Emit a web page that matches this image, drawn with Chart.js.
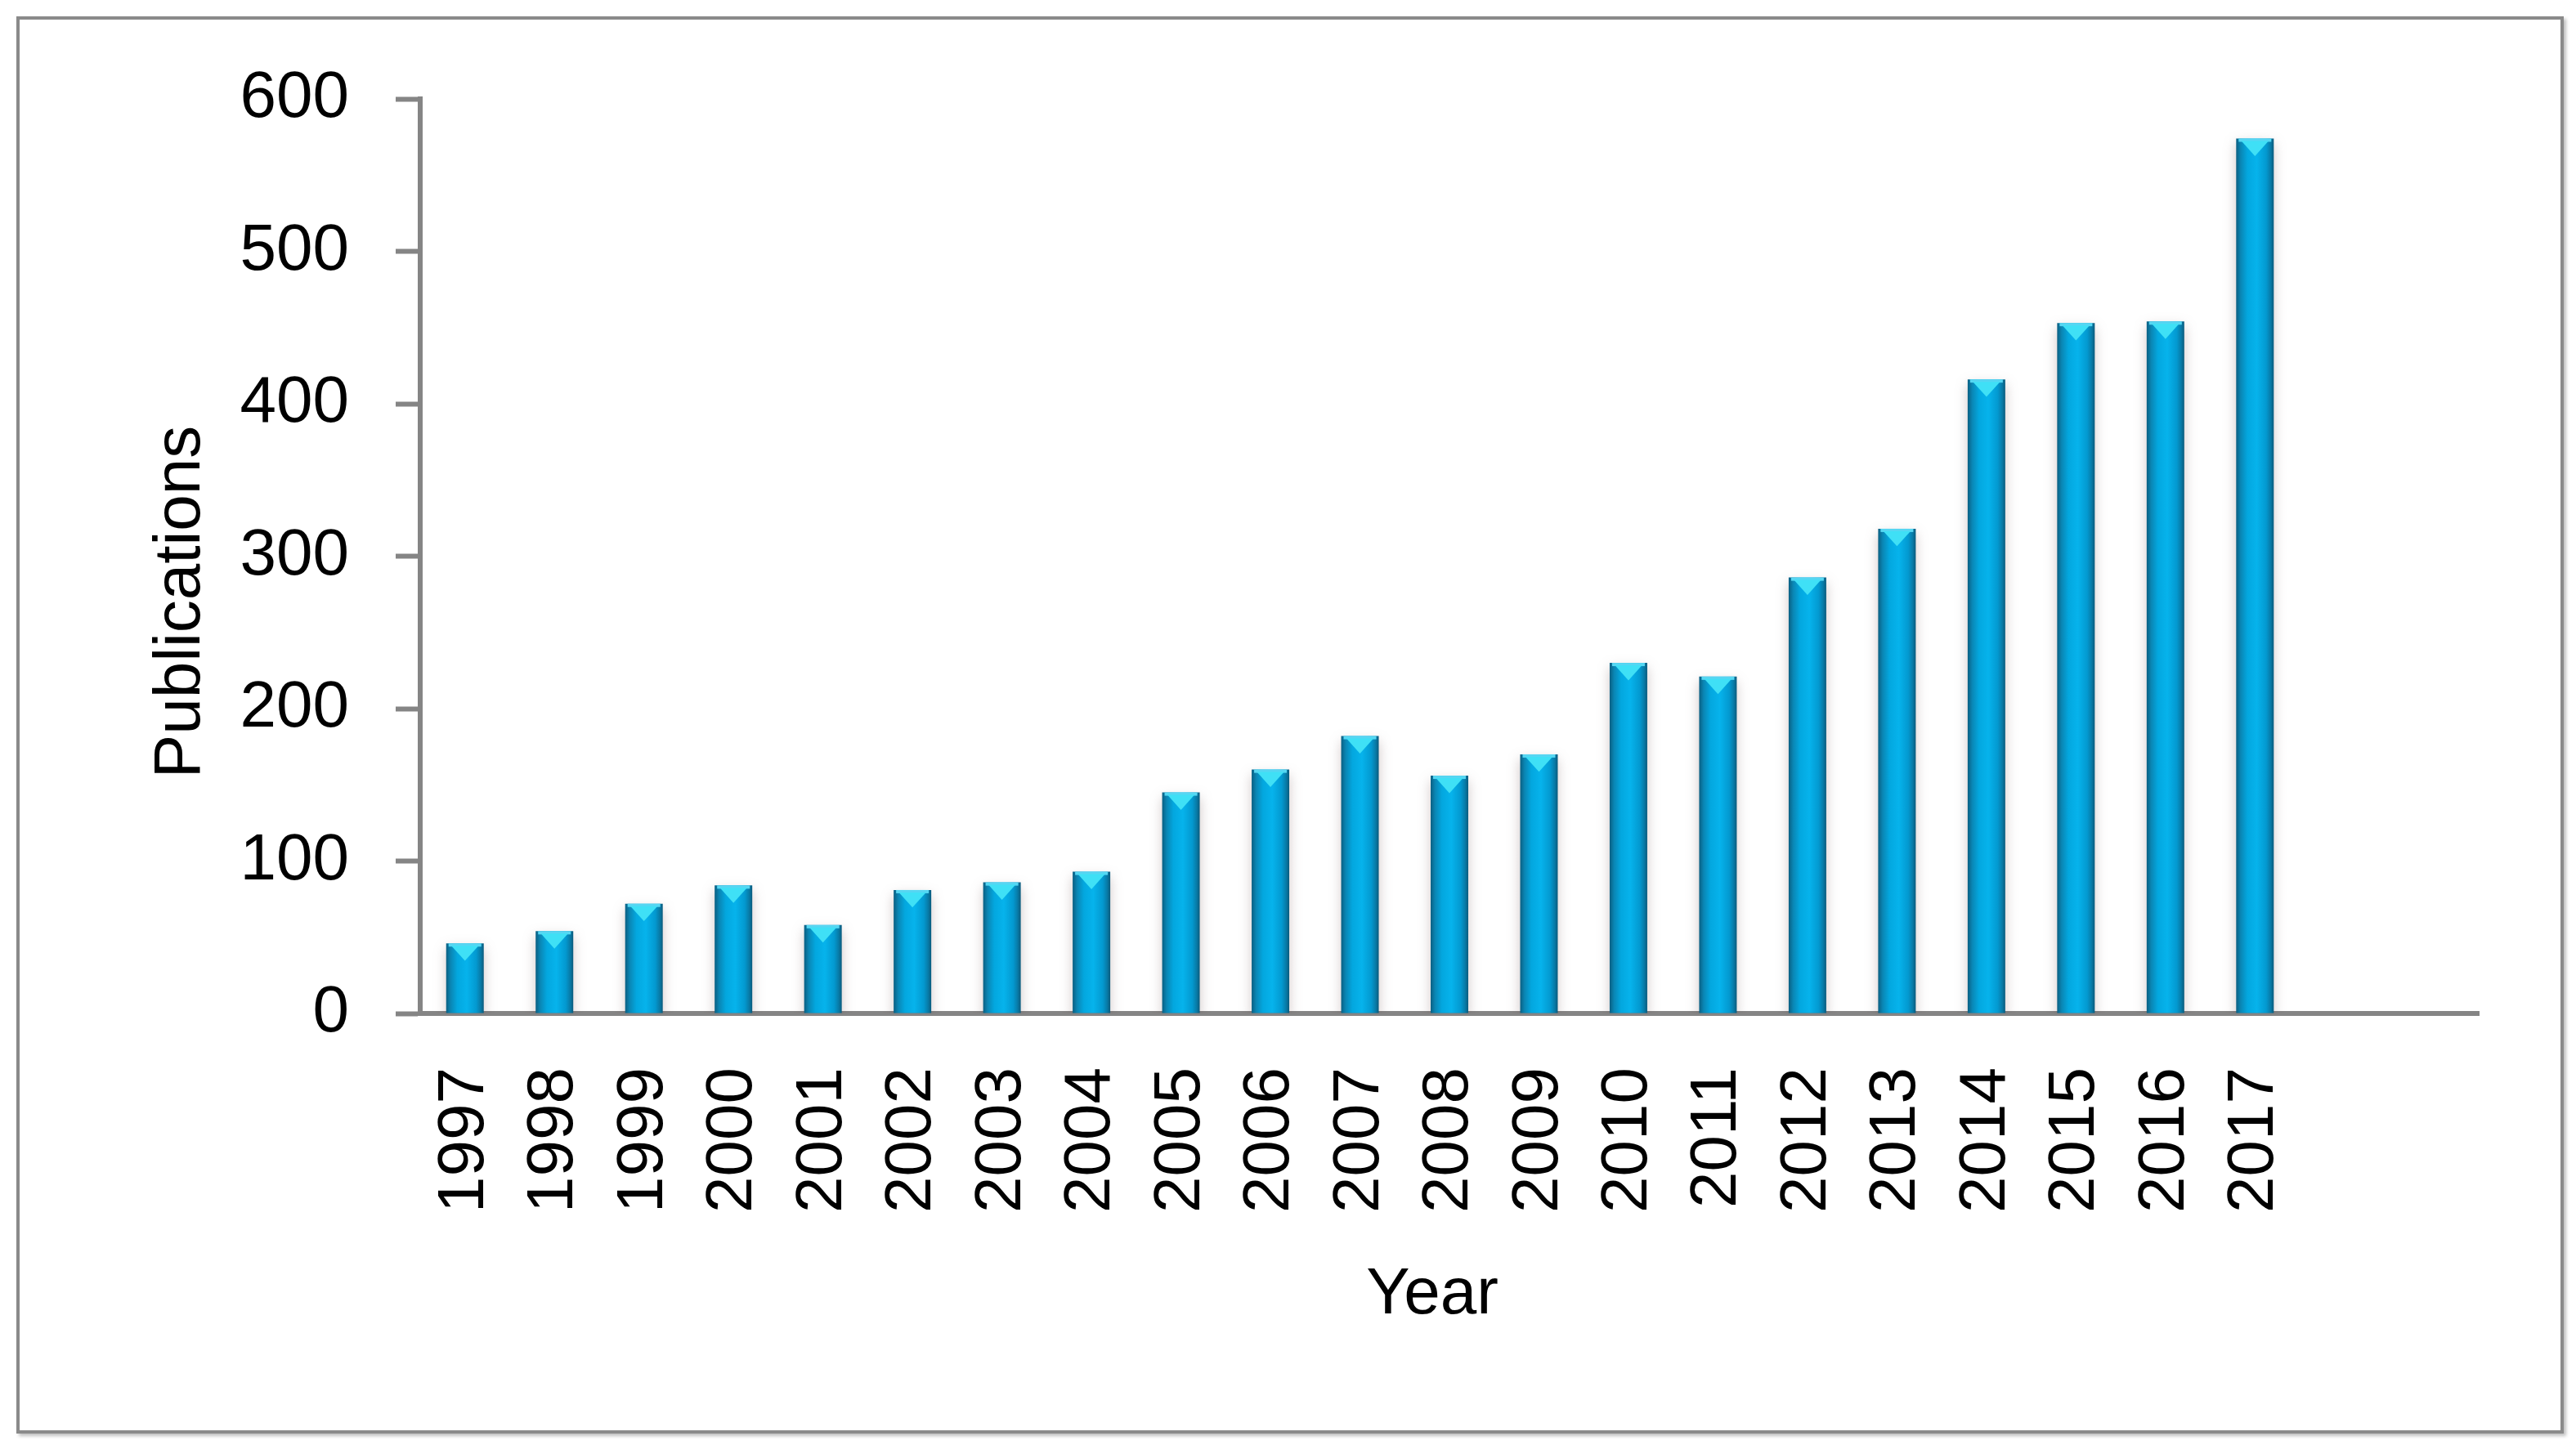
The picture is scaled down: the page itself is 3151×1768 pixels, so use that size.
<!DOCTYPE html>
<html>
<head>
<meta charset="utf-8">
<script src="https://cdn.jsdelivr.net/npm/chart.js@4"></script>
<style>
    html, body {
        margin: 0;
        padding: 0;
        background: #ffffff;
    }
    .wrapper {
        position: relative;
        width: 3151px;
        height: 1768px;
    }
    .frame {
        position: absolute;
        left: 20px;
        top: 20px;
        width: 3108px;
        height: 1726px;
        border: 4px solid #8a8a8a;
        box-shadow: 3px 3px 4px rgba(0, 0, 0, 0.25);
        pointer-events: none;
    }
    #publications_chart {
        position: absolute;
        left: 0;
        top: 0;
    }
</style>
</head>
<body>
<div class="wrapper">
    <canvas id="publications_chart" width="3151" height="1768"></canvas>
    <div class="frame"></div>
</div>
<script>
const years = ['1997', '1998', '1999', '2000', '2001', '2002', '2003', '2004', '2005', '2006', '2007',
    '2008', '2009', '2010', '2011', '2012', '2013', '2014', '2015', '2016', '2017', '', ''];
const publications = [46, 54, 72, 84, 58, 81, 86, 93, 145, 160, 182,
    156, 170, 230, 221, 286, 318, 416, 453, 454, 574, null, null];
const yMin = 0;
const yMax = 600;
const yStep = 100;
const xTitle = 'Year';
const yTitle = 'Publications';

const FONT = '"Liberation Sans", Arial, sans-serif';
const AXIS_GREY = '#858585';
const BAR_PERCENT = 0.42;

const barGradient = (context) => {
    const chart = context.chart;
    const xScale = chart.scales.x;
    if (!chart.chartArea || !xScale) {
        return '#00a9e6';
    }
    const cx = xScale.getPixelForValue(context.dataIndex);
    const w = (xScale.width / years.length) * BAR_PERCENT;
    const g = chart.ctx.createLinearGradient(cx - w / 2, 0, cx + w / 2, 0);
    g.addColorStop(0, '#0a5f82');
    g.addColorStop(0.12, '#0a86b4');
    g.addColorStop(0.3, '#03a7df');
    g.addColorStop(0.55, '#06b3ec');
    g.addColorStop(0.8, '#0399d0');
    g.addColorStop(0.92, '#087aa6');
    g.addColorStop(1, '#0a5a7c');
    return g;
}

// soft shadow behind the bars, like the office chart
const barShadow = {
    id: 'barShadow',
    beforeDatasetsDraw(chart) {
        const ctx = chart.ctx;
        ctx.save();
        ctx.shadowColor = 'rgba(90, 60, 60, 0.28)';
        ctx.shadowBlur = 14;
        ctx.shadowOffsetX = 0;
        ctx.shadowOffsetY = 6;
    },
    afterDatasetsDraw(chart) {
        chart.ctx.restore();
    }
};

// light cyan bevel on top of each bar
const barCap = {
    id: 'barCap',
    afterDatasetsDraw(chart) {
        const ctx = chart.ctx;
        const meta = chart.getDatasetMeta(0);
        ctx.save();
        for (let i = 0; i < meta.data.length; i++) {
            if (publications[i] === null) {
                continue;
            }
            const bar = meta.data[i];
            const w = bar.width;
            ctx.fillStyle = '#56d6f2';
            ctx.fillRect(bar.x - w / 2 + 3, bar.y, w - 6, 4);
            ctx.beginPath();
            ctx.moveTo(bar.x - w * 0.36, bar.y + 3);
            ctx.lineTo(bar.x + w * 0.36, bar.y + 3);
            ctx.lineTo(bar.x, bar.y + 3 + w * 0.4);
            ctx.closePath();
            ctx.fillStyle = '#3fe0f6';
            ctx.fill();
        }
        ctx.restore();
    }
};

const axisTitles = {
    id: 'axisTitles',
    afterDraw(chart) {
        const ctx = chart.ctx;
        const area = chart.chartArea;
        ctx.save();
        ctx.fillStyle = '#000000';
        ctx.font = `80px ${FONT}`;
        ctx.textAlign = 'center';
        ctx.textBaseline = 'middle';
        ctx.fillText(xTitle, (area.left + area.right) / 2 - 21, area.bottom + 345);

        ctx.translate(area.left - 292, (area.top + area.bottom) / 2 + 56);
        ctx.rotate(-Math.PI / 2);
        ctx.fillText(yTitle, 0, 0);
        ctx.restore();
    }
};

const chartEle = document.getElementById('publications_chart');

new Chart(chartEle, {
    type: 'bar',
    data: {
        labels: years,
        datasets: [{
            label: yTitle,
            data: publications,
            backgroundColor: barGradient,
            borderWidth: 0,
            categoryPercentage: 1,
            barPercentage: BAR_PERCENT
        }]
    },
    options: {
        responsive: false,
        animation: false,
        devicePixelRatio: 1,
        layout: {
            padding: { left: 20, top: 121, right: 119, bottom: 20 }
        },
        plugins: {
            legend: { display: false },
            tooltip: { enabled: false }
        },
        scales: {
            x: {
                afterFit: (scale) => { scale.height = 508; },
                grid: { display: false },
                border: { display: true, color: AXIS_GREY, width: 6 },
                ticks: {
                    color: '#000000',
                    font: { family: FONT, size: 80 },
                    padding: 58,
                    minRotation: 90,
                    maxRotation: 90,
                    autoSkip: false
                }
            },
            y: {
                min: yMin,
                max: yMax,
                afterFit: (scale) => { scale.width = 494; },
                grid: {
                    drawOnChartArea: false,
                    drawTicks: true,
                    tickLength: 30,
                    tickColor: AXIS_GREY,
                    tickWidth: 6
                },
                border: { display: true, color: AXIS_GREY, width: 6 },
                ticks: {
                    stepSize: yStep,
                    color: '#000000',
                    font: { family: FONT, size: 80 },
                    padding: 57
                }
            }
        }
    },
    plugins: [barShadow, barCap, axisTitles]
});
</script>
</body>
</html>
